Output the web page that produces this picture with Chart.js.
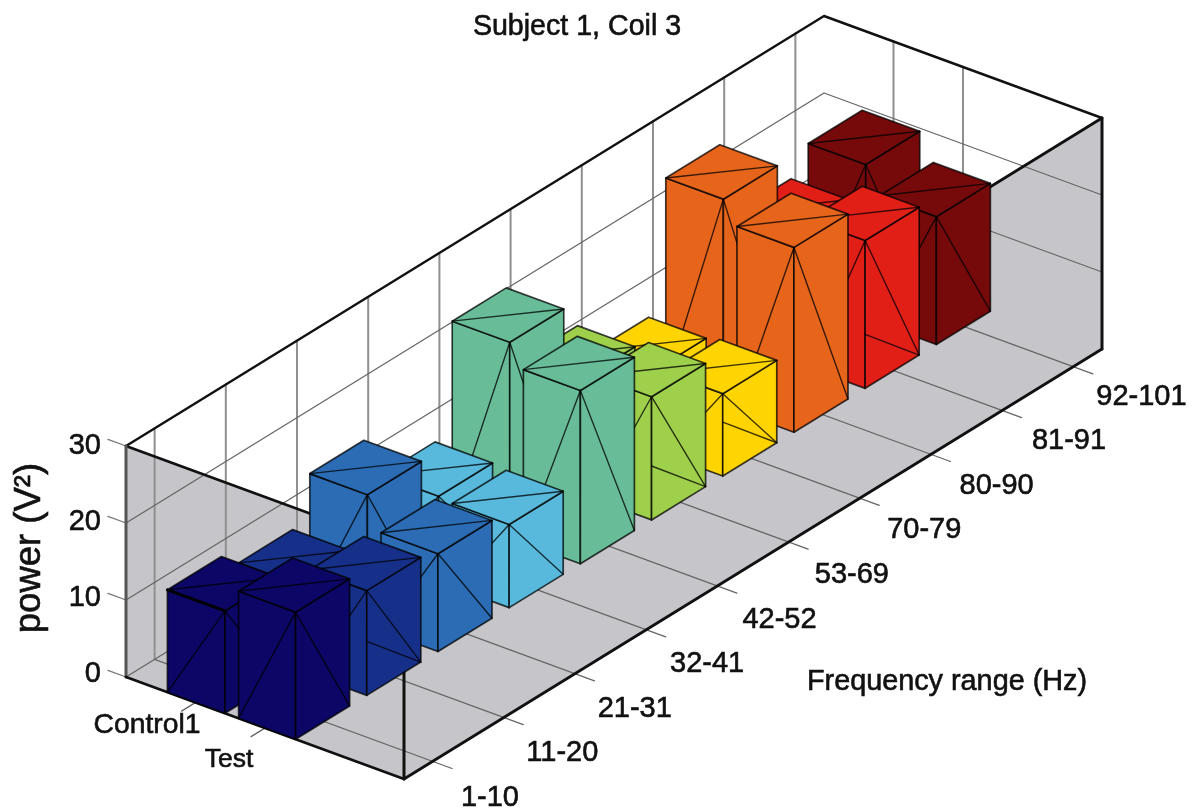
<!DOCTYPE html>
<html>
<head>
<meta charset="utf-8">
<title>Subject 1, Coil 3</title>
<script src="https://cdn.jsdelivr.net/npm/chart.js@4"></script>
<style>
  html, body { margin: 0; padding: 0; background: #fff; }
  canvas { display: block; }
</style>
</head>
<body>
<canvas id="chart" width="1197" height="812"></canvas>
<script>
'use strict';

const frequencyLabels = ['1-10', '11-20', '21-31', '32-41', '42-52', '53-69', '70-79', '80-90', '81-91', '92-101'];
const groupLabels = ['Control1', 'Test'];
const powerTicks = [0, 10, 20, 30];
const controlPower = [13.3, 11.1, 17.0, 11.1, 25.4, 14.8, 10.2, 26.9, 16.8, 20.0];
const testPower = [16.5, 13.6, 12.7, 10.8, 22.5, 16.0, 10.7, 24.0, 19.2, 16.6];
const barColors = ['#0c0666', '#16308a', '#2b6cb4', '#58b9dc', '#68bd98', '#9fd04c', '#ffd400', '#e7641b', '#e11f17', '#760a0a'];
const extraMeshBins = [1, 5, 6, 8]; // bars with the extra triangle on the right face

// Oblique projection of the 3D box: g across groups, f along frequency, z power
const ORIGIN = { x: 126, y: 677 };
const G_AXIS = { x: 278, y: 102 };
const F_AXIS = { x: 698, y: -430 };
const Z_UNIT = -7.7;
const Z_MAX = 30;

const BIN_STEP = 0.102;
const BAR_DEPTH = 0.0774;
const GROUP_SPANS = [[0.149, 0.356], [0.405, 0.61]];
const BIN_CENTER = 0.041;
const GROUP_GRID = [0.25, 0.5];
const MESH_Z = 7;

const WALL_GRAY = '#c6c6ca';
const EDGE = 'rgba(0,0,0,0.75)';

function project(g, f, z) {
    return {
        x: ORIGIN.x + g * G_AXIS.x + f * F_AXIS.x,
        y: ORIGIN.y + g * G_AXIS.y + f * F_AXIS.y + z * Z_UNIT
    };
}

// Painter's order list, reversed at the end because Chart.js draws the first dataset last
const layers = [];

function addPolygon(points, color, edgeWidth) {
    layers.push({
        data: points.concat([points[0]]),
        showLine: true,
        fill: 'shape',
        backgroundColor: color,
        borderColor: EDGE,
        borderWidth: edgeWidth,
        borderJoinStyle: 'round',
        pointRadius: 0,
        tension: 0
    });
}

function addLine(points, color, width) {
    layers.push({
        data: points,
        showLine: true,
        fill: false,
        borderColor: color,
        borderWidth: width,
        borderCapStyle: 'round',
        borderJoinStyle: 'round',
        pointRadius: 0,
        tension: 0
    });
}

function addWallsAndGrid() {
    // Near walls and floor are the gray parts of the box
    addPolygon([project(0, 0, 0), project(1, 0, 0), project(1, 0, Z_MAX), project(0, 0, Z_MAX)], WALL_GRAY, 0);
    addPolygon([project(1, 0, 0), project(1, 1, 0), project(1, 1, Z_MAX), project(1, 0, Z_MAX)], WALL_GRAY, 0);
    addPolygon([project(0, 0, 0), project(1, 0, 0), project(1, 1, 0), project(0, 1, 0)], WALL_GRAY, 0);

    frequencyLabels.forEach((label, i) => {
        const f = BIN_CENTER + i * BIN_STEP;
        addLine([project(0, f, 0), project(0, f, Z_MAX)], '#8f8f8f', 2);
        addLine([project(0, f, 0), project(1.07, f, 0)], '#666', 1.3);
    });
    GROUP_GRID.forEach(g => {
        addLine([project(g, 1, 0), project(g, 1, Z_MAX)], '#8f8f8f', 2);
        addLine([project(g, -0.02, 0), project(g, 1, 0)], '#666', 1.3);
    });
    powerTicks.forEach(z => {
        addLine([project(-0.065, 0, z), project(0, 0, z)], '#777', 1.3);
        if (z > 0 && z < Z_MAX) {
            addLine([project(0, 0, z), project(0, 1, z), project(1, 1, z)], '#666', 1.3);
        }
    });
    addLine([project(0, 0, 0), project(0, 1, 0)], '#666', 1.3);

    // Box frame
    addLine([project(0, 0, Z_MAX), project(0, 1, Z_MAX), project(1, 1, Z_MAX)], '#111', 2.4);
    addLine([project(0, 0, Z_MAX), project(1, 0, Z_MAX), project(1, 1, Z_MAX)], '#111', 2.8);
    addLine([project(0, 0, 0), project(0, 0, Z_MAX)], '#555', 3);
    addLine([project(1, 0, 0), project(1, 0, Z_MAX)], '#111', 3);
    addLine([project(1, 1, 0), project(1, 1, Z_MAX)], '#111', 3);
    addLine([project(0, 0, 0), project(1, 0, 0), project(1, 1, 0)], '#111', 2.8);
}

function addBar(bin, span, height, hasExtraMesh) {
    const f0 = bin * BIN_STEP;
    const f1 = f0 + BAR_DEPTH;
    const g0 = span[0];
    const g1 = span[1];
    const color = barColors[bin];

    addPolygon([project(g0, f0, 0), project(g1, f0, 0), project(g1, f0, height), project(g0, f0, height)], color, 1.7);
    addPolygon([project(g1, f0, 0), project(g1, f1, 0), project(g1, f1, height), project(g1, f0, height)], color, 1.7);
    addPolygon([project(g0, f0, height), project(g1, f0, height), project(g1, f1, height), project(g0, f1, height)], color, 1.7);

    // Mesh lines left by the surface triangulation
    addLine([project(g0, f0, height), project(g1, f1, height)], EDGE, 1.4);
    addLine([project(g1, f0, height), project(g0, f0, 0)], EDGE, 1.4);
    addLine([project(g1, f0, height), project(g1, f1, 0)], EDGE, 1.4);
    if (hasExtraMesh) {
        addLine([project(g1, f0, MESH_Z), project(g1, f1, 0)], EDGE, 1.4);
    }
}

function addBars() {
    for (let i = frequencyLabels.length - 1; i >= 0; i--) {
        const extra = extraMeshBins.includes(i);
        addBar(i, GROUP_SPANS[0], controlPower[i], extra);
        if (i === 0) {
            // Heavier top edge on the first control bar
            addLine([
                project(GROUP_SPANS[0][0], 0, controlPower[0]),
                project(GROUP_SPANS[0][1], 0, controlPower[0])
            ], '#000', 3);
        }
        addBar(i, GROUP_SPANS[1], testPower[i], extra);
    }
}

addWallsAndGrid();
addBars();

// Axis texts sit next to the projected axes, so they are drawn over the scales here
const textPlugin = {
    id: 'boxLabels',
    afterDraw(chart) {
        const ctx = chart.ctx;
        const sx = chart.scales.x;
        const sy = chart.scales.y;
        const put = (text, x, y, font, align) => {
            ctx.font = font;
            ctx.textAlign = align || 'center';
            ctx.textBaseline = 'middle';
            ctx.fillText(text, sx.getPixelForValue(x), sy.getPixelForValue(y));
            ctx.strokeText(text, sx.getPixelForValue(x), sy.getPixelForValue(y));
        };

        ctx.save();
        ctx.fillStyle = '#111';
        ctx.strokeStyle = '#111';
        ctx.lineWidth = 0.6;
        put('Subject 1, Coil 3', 577, 27, '28.6px "Liberation Sans"');

        frequencyLabels.forEach((label, i) => {
            const p = project(1.2, 0.0435 + i * 0.1037, -2.25);
            put(label, p.x, p.y, '29px "Liberation Sans"');
        });
        put('Frequency range (Hz)', 947, 682, '28.8px "Liberation Sans"');

        powerTicks.forEach(z => {
            const p = project(-0.09, 0, z * 0.985);
            put(String(z), p.x, p.y + 6, '29px "Liberation Sans"', 'right');
        });

        const groupAnchors = [[147, 725], [229, 760]];
        groupLabels.forEach((label, i) => {
            put(label, groupAnchors[i][0], groupAnchors[i][1], i === 0 ? '28.3px "Liberation Sans"' : '26.5px "Liberation Sans"');
        });

        ctx.translate(sx.getPixelForValue(30), sy.getPixelForValue(548));
        ctx.rotate(-Math.PI / 2);
        put('power (V\u00b2)', 0, 0, '36.5px "Liberation Sans"');
        ctx.restore();
    }
};

new Chart(document.getElementById('chart').getContext('2d'), {
    type: 'scatter',
    data: { datasets: layers.slice().reverse() },
    options: {
        responsive: false,
        animation: false,
        devicePixelRatio: 1,
        layout: { padding: 0 },
        plugins: {
            legend: { display: false },
            tooltip: { enabled: false },
            title: { display: false }
        },
        scales: {
            x: { type: 'linear', min: 0, max: 1197, display: false },
            y: { type: 'linear', min: 0, max: 812, reverse: true, display: false }
        }
    },
    plugins: [textPlugin]
});
</script>
</body>
</html>
